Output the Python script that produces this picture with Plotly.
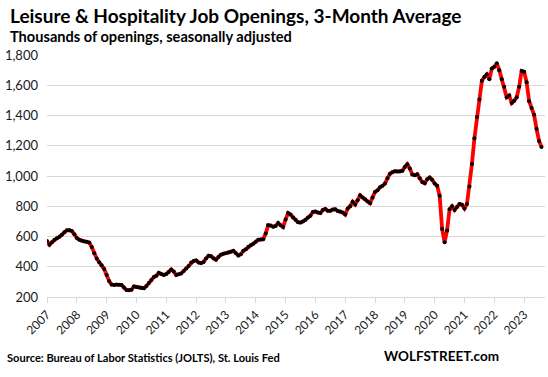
import plotly.graph_objects as go

# Monthly 3-month-average job openings (thousands), Leisure & Hospitality
v2007 = [570, 545, 562, 578, 588, 598, 612, 628, 641, 642, 636, 615]
v2008 = [590, 578, 572, 567, 565, 560, 530, 490, 455, 430, 410, 385]
v2009 = [345, 305, 282, 280, 283, 281, 280, 262, 246, 245, 248, 270]
v2010 = [266, 263, 260, 258, 272, 292, 312, 332, 340, 360, 352, 346]
v2011 = [352, 366, 382, 368, 345, 350, 356, 372, 388, 405, 428, 438]
v2012 = [442, 428, 424, 432, 455, 472, 470, 455, 446, 465, 480, 486]
v2013 = [490, 495, 500, 505, 490, 474, 482, 505, 515, 532, 542, 552]
v2014 = [565, 578, 580, 582, 620, 675, 672, 665, 670, 690, 675, 662]
v2015 = [712, 755, 745, 725, 710, 694, 692, 700, 710, 725, 738, 762]
v2016 = [765, 758, 755, 775, 782, 770, 770, 778, 780, 768, 765, 758]
v2017 = [745, 785, 800, 830, 812, 840, 872, 858, 846, 832, 820, 858]
v2018 = [895, 905, 925, 935, 950, 985, 1015, 1025, 1032, 1030, 1030, 1034]
v2019 = [1060, 1078, 1050, 1010, 1005, 1012, 985, 960, 952, 978, 990, 975]
v2020 = [950, 935, 870, 650, 562, 640, 780, 800, 775, 795, 815, 810]
v2021 = [785, 815, 930, 1080, 1250, 1390, 1505, 1630, 1655, 1672, 1640, 1710]
v2022 = [1722, 1745, 1700, 1640, 1590, 1520, 1532, 1482, 1498, 1520, 1590, 1695]
v2023 = [1690, 1620, 1495, 1450, 1405, 1312, 1232, 1192]

yearly = [v2007, v2008, v2009, v2010, v2011, v2012, v2013, v2014, v2015,
          v2016, v2017, v2018, v2019, v2020, v2021, v2022, v2023]
years = list(range(2007, 2024))

values = [v for yr in yearly for v in yr]
month_index = list(range(len(values)))          # 0 = Jan 2007
tick_pos = [12 * (y - 2007) for y in years]       # January of each year
tick_text = [str(y) for y in years]
y_ticks = [200, 400, 600, 800, 1000, 1200, 1400, 1600, 1800]

FONT = "Lato"

fig = go.Figure()
fig.add_trace(go.Scatter(
    x=month_index, y=values, mode="lines+markers",
    line=dict(color="#ff0000", width=3.8),
    marker=dict(color="#000000", size=4),
    hoverinfo="skip",
))

fig.update_layout(
    width=548, height=377,
    margin=dict(l=47, r=3, t=55, b=80),
    paper_bgcolor="white", plot_bgcolor="white",
    showlegend=False,
    font=dict(family=FONT, color="#1a1a1a"),
)

fig.update_xaxes(
    type="linear",
    range=[0, 200.4],
    tickmode="array", tickvals=tick_pos, ticktext=tick_text, tickangle=-45,
    showgrid=False, showline=True, linecolor="#d9d9d9", linewidth=1,
    ticks="outside", ticklen=5, tickcolor="#d9d9d9",
    tickfont=dict(family=FONT, size=12, color="#1a1a1a"),
    zeroline=False,
)
fig.update_yaxes(
    range=[200, 1800], tickmode="array", tickvals=y_ticks, tickformat=",d",
    showgrid=True, gridcolor="#d9d9d9", gridwidth=1,
    showline=False, zeroline=False, ticks="",
    ticklabelstandoff=8,
    tickfont=dict(family=FONT, size=13, color="#1a1a1a"),
)

fig.add_annotation(
    text="<b>Leisure & Hospitality Job Openings, 3-Month Average</b>",
    xref="paper", yref="paper", x=-0.078, y=1.0, xanchor="left", yanchor="bottom",
    yshift=26, showarrow=False, font=dict(family=FONT, size=19, color="black"),
)
fig.add_annotation(
    text="<b>Thousands of openings, seasonally adjusted</b>",
    xref="paper", yref="paper", x=-0.078, y=1.0, xanchor="left", yanchor="bottom",
    yshift=8, showarrow=False, font=dict(family=FONT, size=14.6, color="black"),
)
fig.add_annotation(
    text="<b>Source: Bureau of Labor Statistics (JOLTS), St. Louis Fed</b>",
    xref="paper", yref="paper", x=-0.084, y=0, xanchor="left", yanchor="top",
    yshift=-52, showarrow=False, font=dict(family=FONT, size=11.1, color="black"),
)
fig.add_annotation(
    text="<b>WOLFSTREET.com</b>",
    xref="paper", yref="paper", x=0.912, y=0, xanchor="right", yanchor="top",
    yshift=-49, showarrow=False, font=dict(family=FONT, size=13.5, color="black"),
)

fig.write_html("out.html", config={"displayModeBar": False},
               post_script="document.body.style.margin='0px';")
